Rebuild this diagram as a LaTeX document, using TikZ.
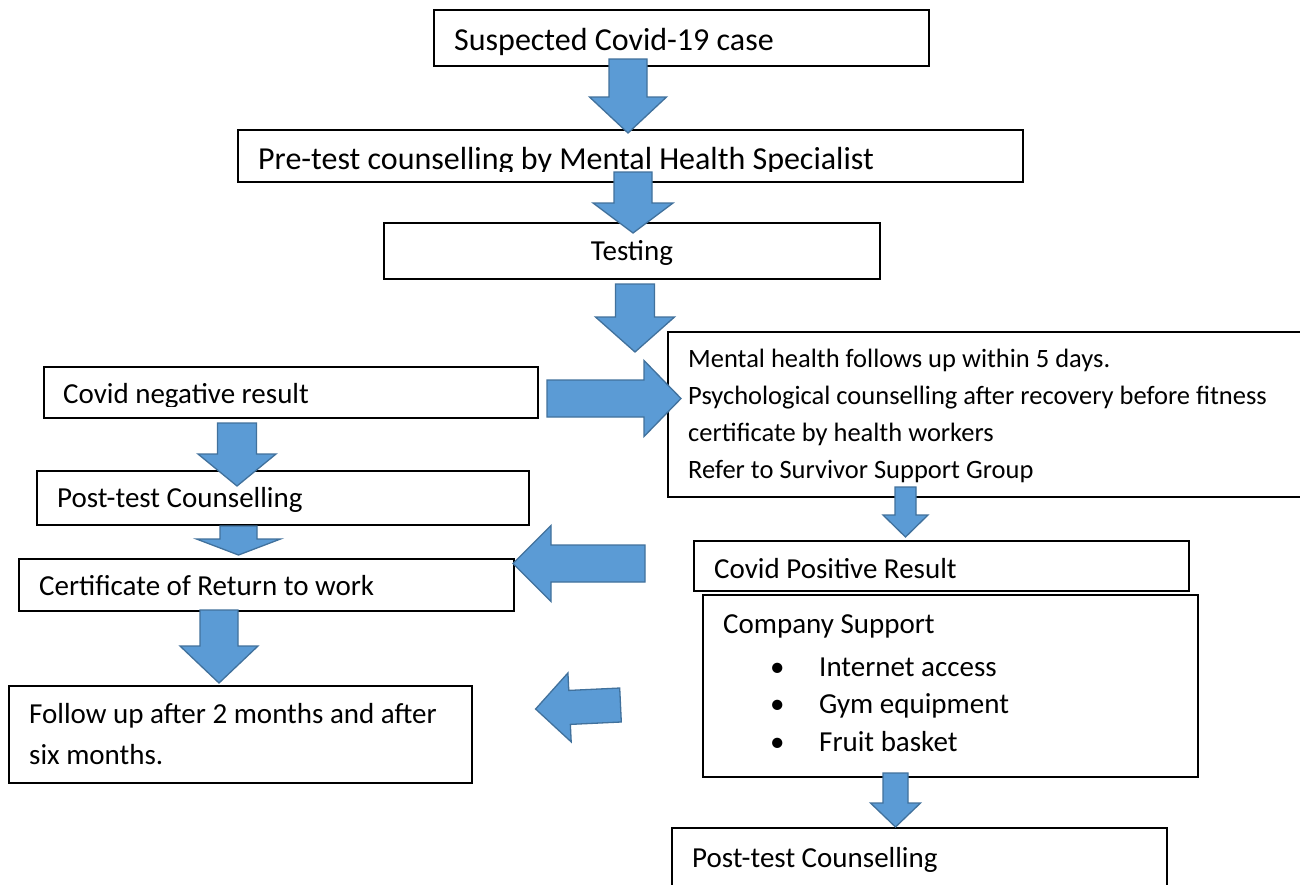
\documentclass[tikz,border=0pt]{standalone}
\usepackage{fontspec}
\setmainfont{Carlito}
\definecolor{blkfill}{RGB}{91,155,213}
\definecolor{blkedge}{RGB}{65,113,156}
\tikzset{
  box/.style={draw=black, line width=1.5pt, anchor=north west, inner sep=0pt},
  txt/.style={anchor=base west, inner sep=0pt, align=left,
    font=\fontsize{29}{41}\selectfont},
  bigtxt/.style={txt, font=\fontsize{32}{38}\selectfont},
  smalltxt/.style={txt, font=\fontsize{26.5}{37}\selectfont},
  listtxt/.style={txt, font=\fontsize{29}{37.5}\selectfont},
  blkarr/.style={fill=blkfill, draw=blkedge, line width=1.3pt, line join=miter},
  % block arrow pointing along local y: shaft half width, head half width, length, head length
  pics/blk/.style n args={4}{code={
    \draw[blkarr] (-#1,0) -- (#1,0) -- (#1,#3-#4) -- (#2,#3-#4) -- (0,#3)
      -- (-#2,#3-#4) -- (-#1,#3-#4) -- cycle;
  }}
}
\begin{document}
\begin{tikzpicture}[x=1pt,y=-1pt]
  \useasboundingbox (0,0) rectangle (1300,884);
  \fill[white] (0,0) rectangle (1300,884);

  % boxes
  \node[box, minimum width=495, minimum height=56] (b1) at (433,9) {};
  \node[box, minimum width=785, minimum height=52] (b2) at (237,129) {};
  \node[box, minimum width=496, minimum height=56] (b3) at (383,222) {};
  \node[box, minimum width=650, minimum height=165] (b4) at (667,331) {};
  \node[box, minimum width=494, minimum height=51] (b5) at (43,366) {};
  \node[box, minimum width=492, minimum height=54] (b6) at (36,470) {};
  \node[box, minimum width=495, minimum height=52] (b7) at (18,558) {};
  \node[box, minimum width=463, minimum height=97] (b8) at (8,685) {};
  \node[box, minimum width=495, minimum height=50] (b9) at (693,540) {};
  \node[box, minimum width=495, minimum height=182] (b10) at (702,594) {};
  \node[box, minimum width=495, minimum height=80] (b11) at (671,827) {};

  % texts (multi-line nodes sit on their last baseline)
  \node[bigtxt] (t1) at (454,50) {Suspected Covid-19 case};
  \begin{scope}
    \clip (237,129) rectangle (1022,171);
    \node[bigtxt] (t2) at (258,169) {Pre-test counselling by Mental Health Specialist};
  \end{scope}
  \node[txt, anchor=base] (t3) at (632,260) {Testing};
  \node[smalltxt] (t4) at (688,478) {Mental health follows up within 5 days.\\
    Psychological counselling after recovery before fitness\\
    certificate by health workers\\
    Refer to Survivor Support Group};
  \begin{scope}
    \clip (43,366) rectangle (537,406);
    \node[txt] (t5) at (63,403) {Covid negative result};
  \end{scope}
  \node[txt] (t6) at (57,507) {Post-test Counselling};
  \node[txt] (t7) at (39,595) {Certificate of Return to work};
  \node[txt] (t8) at (29,764) {Follow up after 2 months and after\\six months.};
  \node[txt] (t9) at (714,578) {Covid Positive Result};
  \node[txt] (t10) at (723,633) {Company Support};
  \node[listtxt] (t10l) at (770,751) {\makebox[49pt][l]{•}Internet access\\
    \makebox[49pt][l]{•}Gym equipment\\
    \makebox[49pt][l]{•}Fruit basket};
  \node[txt] (t11) at (692,867) {Post-test Counselling};

  % block arrows
  \pic (a1) at (628,59) {blk={19}{38.5}{74}{36}};
  \pic (a2) at (633,172) {blk={19}{40}{61}{30}};
  \pic (a3) at (635,284) {blk={19.5}{39.5}{68}{35}};
  \pic[rotate=90] (a4) at (547,398.5) {blk={18.5}{38}{134}{37}};
  \pic (a5) at (237,423) {blk={19.5}{39}{63}{32}};
  \pic (a6) at (238.5,526) {blk={18.5}{42}{29}{16}};
  \pic[rotate=-90] (a7) at (645,563.5) {blk={18.5}{38}{132}{38}};
  \pic (a8) at (219,610) {blk={19}{39}{73}{37}};
  \pic[rotate=-87.3] (a9) at (620.5,705) {blk={17}{34.5}{85}{34}};
  \pic (a10) at (905.5,487) {blk={10.5}{22.5}{50}{22}};
  \pic (a11) at (895.5,773) {blk={12.5}{25}{54}{24}};
\end{tikzpicture}
\end{document}
